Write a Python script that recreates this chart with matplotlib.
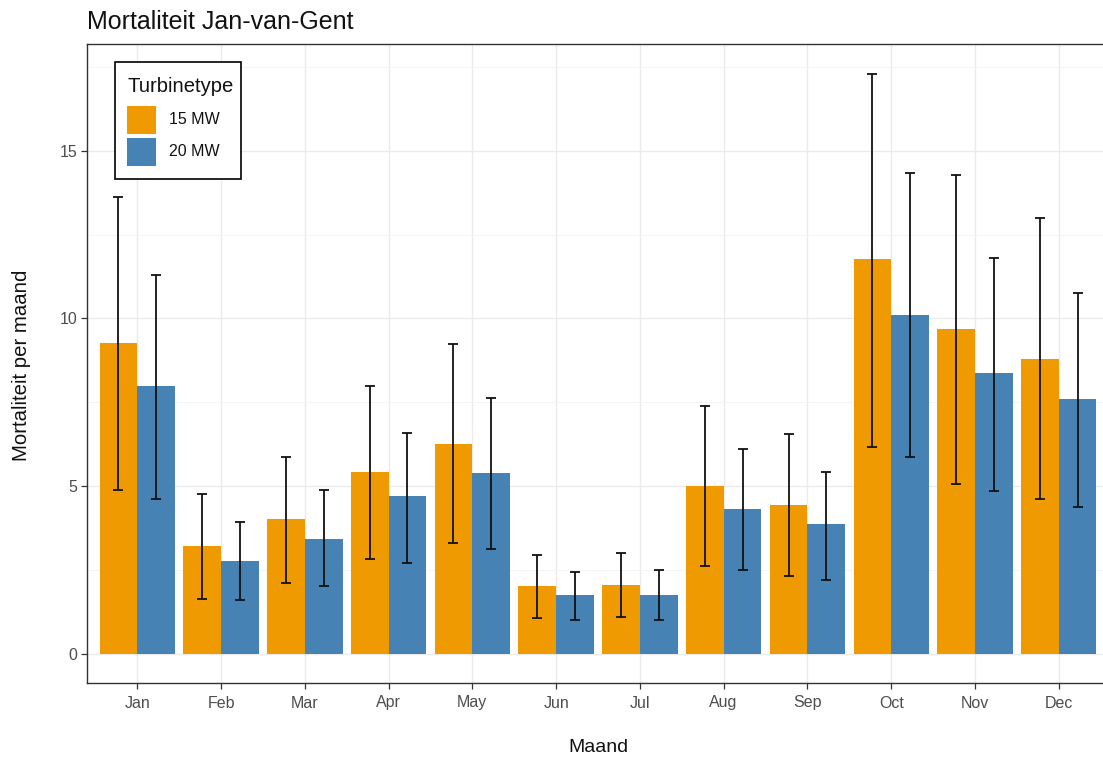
import matplotlib
matplotlib.use("Agg")
import matplotlib.pyplot as plt
import numpy as np
from matplotlib.patches import Rectangle

plt.rcParams["font.family"] = ["Liberation Sans", "DejaVu Sans"]

months = ["Jan", "Feb", "Mar", "Apr", "May", "Jun", "Jul", "Aug", "Sep", "Oct", "Nov", "Dec"]
series_names = ["15 MW", "20 MW"]

mean_15 = [9.28, 3.21, 4.02, 5.43, 6.25, 2.01, 2.06, 4.99, 4.43, 11.76, 9.67, 8.80]
low_15 = [4.89, 1.64, 2.10, 2.83, 3.29, 1.06, 1.09, 2.62, 2.32, 6.16, 5.07, 4.63]
high_15 = [13.63, 4.77, 5.86, 7.97, 9.23, 2.96, 3.00, 7.38, 6.54, 17.29, 14.26, 12.99]

mean_20 = [7.99, 2.76, 3.42, 4.69, 5.38, 1.76, 1.76, 4.31, 3.86, 10.09, 8.36, 7.61]
low_20 = [4.63, 1.60, 2.01, 2.71, 3.12, 1.01, 1.01, 2.49, 2.21, 5.87, 4.84, 4.39]
high_20 = [11.29, 3.93, 4.89, 6.59, 7.63, 2.45, 2.49, 6.11, 5.42, 14.34, 11.79, 10.75]

colors = ["#EE9A00", "#4682B4"]

W, H = 1103, 758
fig = plt.figure(figsize=(W / 100, H / 100), dpi=100)
ax = fig.add_axes([87 / W, (H - 683) / H, (1109 - 87) / W, (683 - 44) / H])

def fx(px):
    return px / W

def fy(py):
    return 1 - py / H

x = np.arange(len(months))
bw = 0.45
for i, (m, lo, hi) in enumerate([(mean_15, low_15, high_15), (mean_20, low_20, high_20)]):
    pos = x + (i - 0.5) * bw
    m = np.array(m); lo = np.array(lo); hi = np.array(hi)
    ax.bar(pos, m, width=bw, color=colors[i], zorder=3, linewidth=0)
    ax.errorbar(pos, m, yerr=[m - lo, hi - m], fmt="none", ecolor="#111111",
                elinewidth=1.3, capsize=3.4, capthick=1.3, zorder=4)

ax.set_xlim(-0.6, len(months) - 1 + 0.6)
ax.set_ylim(-0.87, 18.18)
ax.set_xticks(x)
ax.set_xticklabels(months)
ax.set_yticks([0, 5, 10, 15])
ax.set_yticks([2.5, 7.5, 12.5, 17.5], minor=True)
ax.tick_params(axis="both", which="major", length=4, width=0.9, color="#333333",
               labelcolor="#4d4d4d", labelsize=11.5, pad=3)
ax.tick_params(axis="x", which="major", pad=5)
ax.tick_params(axis="y", which="minor", length=0)
ax.grid(True, which="major", color="#ebebeb", linewidth=1.0, zorder=0)
ax.grid(True, which="minor", axis="y", color="#f3f3f3", linewidth=0.6, zorder=0)
ax.set_axisbelow(True)
for s in ax.spines.values():
    s.set_color("#333333")
    s.set_linewidth(1.0)
ax.spines["right"].set_visible(False)

fig.text(fx(87), fy(29), "Mortaliteit Jan-van-Gent", fontsize=18, color="#111111",
         ha="left", va="baseline")
fig.text(fx(598), fy(752), "Maand", fontsize=14, color="#111111", ha="center", va="baseline")
fig.text(fx(22), fy(365), "Mortaliteit per maand", fontsize=14.7, color="#111111",
         ha="center", va="center", rotation=90)

# legend (ggplot style box)
fig.patches.append(Rectangle((fx(115), fy(179)), fx(241) - fx(115), fy(62) - fy(179),
                             transform=fig.transFigure, facecolor="white",
                             edgecolor="black", linewidth=1.2, zorder=10))
fig.text(fx(127), fy(87), "Turbinetype", fontsize=14.6, color="#111111",
         ha="left", va="center", zorder=11)
key_tops = [106, 138]
for i, name in enumerate(series_names):
    t = key_tops[i]
    fig.patches.append(Rectangle((fx(127), fy(t + 28)), fx(156) - fx(127), fy(t) - fy(t + 28),
                                 transform=fig.transFigure, facecolor=colors[i],
                                 edgecolor="none", zorder=11))
    fig.text(fx(169), fy(t + 14), name, fontsize=11.5, color="#111111",
             ha="left", va="center", zorder=12)

fig.savefig("out.png", dpi=100, facecolor="white")
